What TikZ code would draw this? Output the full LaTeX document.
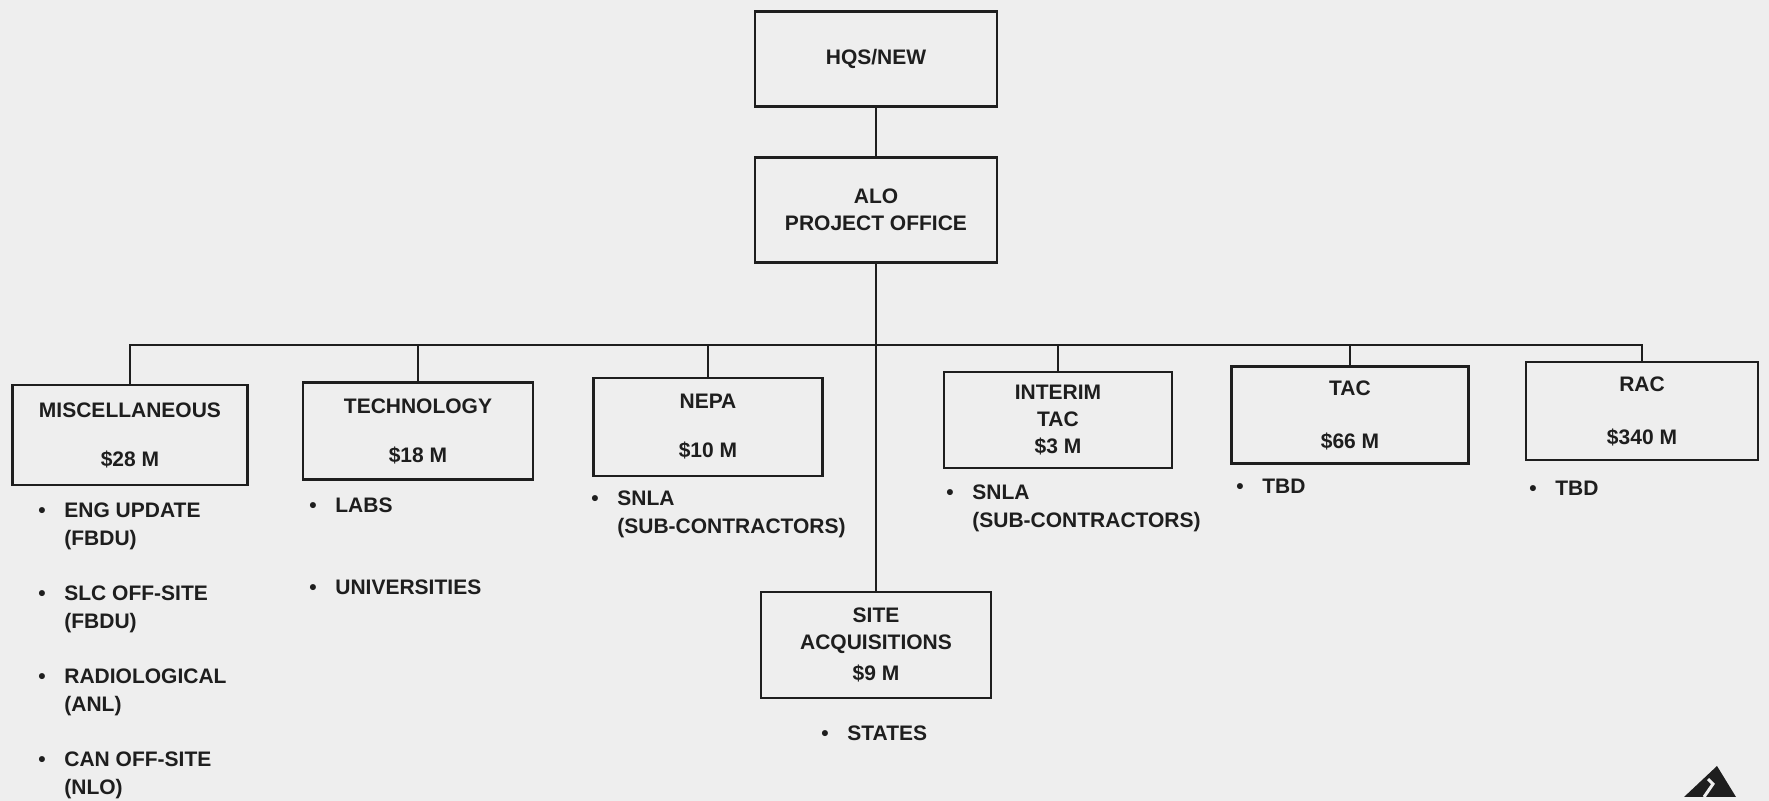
\documentclass[tikz,border=0pt]{standalone}
\usepackage{fontspec}
\setmainfont{Liberation Sans}
\usepackage{tikz}
\usetikzlibrary{positioning, calc}
\definecolor{cInk}{HTML}{1E1E1E}
\definecolor{cPaper}{HTML}{EEEEEE}
\newcommand{\bul}{\makebox[13pt][l]{\textbullet}}

\begin{document}
\begin{tikzpicture}[
    x=0.5pt, y=-0.5pt,
    font=\fontsize{10.5}{13.5}\selectfont\bfseries,
    unit/.style={draw=cInk, line width=1.4pt, minimum width=116pt,
                 minimum height=49pt, inner sep=0pt, align=center, text=cInk},
    link/.style={draw=cInk, line width=1pt},
    lbl/.style={anchor=base west, inner sep=0pt, text=cInk,
                font=\fontsize{10.5}{14}\selectfont\bfseries},
  ]
  \fill[cPaper] (0,0) rectangle (1769,801);
  \useasboundingbox (0,0) rectangle (1769,801);

  % ── HEADQUARTERS ──
  \node[unit, minimum width=121pt, minimum height=47.5pt] (hq) at (876,59) {HQS/NEW};
  \node[unit, minimum width=121pt, minimum height=52.5pt] (alo) at (876,210)
    {ALO\\PROJECT OFFICE};
  \draw[link] (hq) -- (alo);

  % ── TASKS ──
  \node[unit, minimum width=117.5pt, minimum height=50pt] (misc) at (130,435)
    {MISCELLANEOUS\\[11pt]\$28 M};
  \node[unit, minimum width=115pt, minimum height=48.5pt] (tech) at (418,431)
    {TECHNOLOGY\\[11pt]\$18 M};
  \node[unit, minimum width=114.5pt] (nepa) at (708,427)
    {NEPA\\[11pt]\$10 M};
  \node[unit, minimum width=114pt, minimum height=48pt] (interim) at (1058,420)
    {INTERIM\\TAC\\\$3 M};
  \node[unit, minimum width=118.5pt, minimum height=48.5pt] (tac) at (1350,415)
    {TAC\\[13pt]\$66 M};
  \node[unit] (rac) at (1642,411)
    {RAC\\[13pt]\$340 M};
  \node[unit, minimum width=115pt, minimum height=53pt] (site) at (876,645)
    {SITE\\ACQUISITIONS\\[2pt]\$9 M};

  % ── CONNECTORS ──
  \coordinate (bar) at (876,345);
  \draw[link] (alo) -- (site);
  \draw[link] (misc.north) |- (bar) -| (rac.north);
  \foreach \n in {tech, nepa, interim, tac}
    \draw[link] (\n.north) -- (\n.north |- bar);

  % ── PERFORMERS ──
  \node[lbl] (miscnote) at (38,517.5) {\begin{tabular}[t]{@{}l@{}l@{}}
      \bul & ENG UPDATE\\ & (FBDU)\\[13.5pt]
      \bul & SLC OFF-SITE\\ & (FBDU)\\[13.5pt]
      \bul & RADIOLOGICAL\\ & (ANL)\\[13.5pt]
      \bul & CAN OFF-SITE\\ & (NLO)
    \end{tabular}};
  \node[lbl] (technote) at (309,512.5) {\begin{tabular}[t]{@{}l@{}l@{}}
      \bul & LABS\\[27pt]
      \bul & UNIVERSITIES
    \end{tabular}};
  \node[lbl] (nepanote) at (591,505.5) {\begin{tabular}[t]{@{}l@{}l@{}}
      \bul & SNLA\\ & (SUB-CONTRACTORS)
    \end{tabular}};
  \node[lbl] (interimnote) at (946,499.5) {\begin{tabular}[t]{@{}l@{}l@{}}
      \bul & SNLA\\ & (SUB-CONTRACTORS)
    \end{tabular}};
  \node[lbl] (tacnote) at (1236,493.5) {\bul TBD};
  \node[lbl] (racnote) at (1529,495.5) {\bul TBD};
  \node[lbl] (sitenote) at (821,740.5) {\bul STATES};

  % ── LOGO ──
  \fill[cInk] (1684,797) -- (1717,766) -- (1736,797) -- cycle;
  \draw[cPaper, line width=1.5pt] (1704,797) -- (1713,784) -- (1708,779);
\end{tikzpicture}
\end{document}
